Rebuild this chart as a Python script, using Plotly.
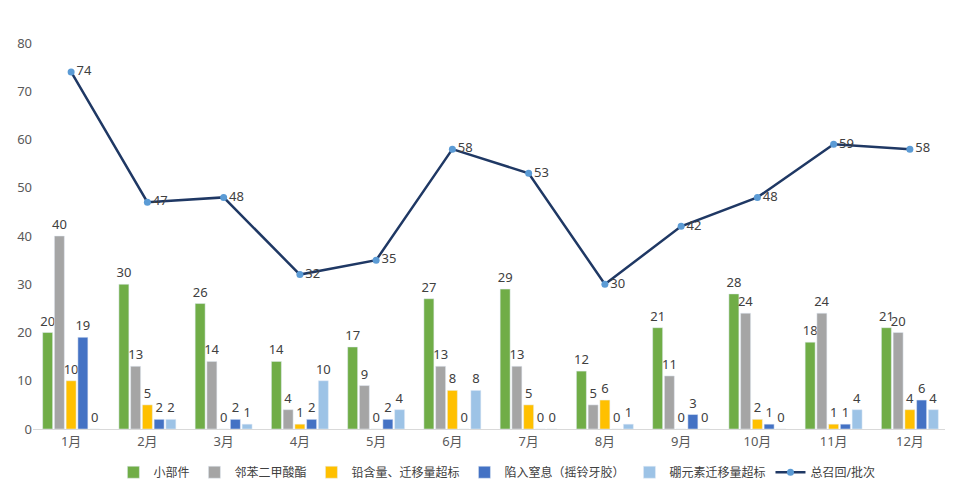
import plotly.graph_objects as go

months = ["1月", "2月", "3月", "4月", "5月", "6月", "7月", "8月", "9月", "10月", "11月", "12月"]
small_parts = [20, 30, 26, 14, 17, 27, 29, 12, 21, 28, 18, 21]
phthalates = [40, 13, 14, 4, 9, 13, 13, 5, 11, 24, 24, 20]
lead = [10, 5, 0, 1, 0, 8, 5, 6, 0, 2, 1, 4]
choking = [19, 2, 2, 2, 2, 0, 0, 0, 3, 1, 1, 6]
boron = [0, 2, 1, 10, 4, 8, 0, 1, 0, 0, 4, 4]
total = [74, 47, 48, 32, 35, 58, 53, 30, 42, 48, 59, 58]

series_names = ["小部件", "邻苯二甲酸酯", "铅含量、迁移量超标", "陷入窒息（摇铃牙胶）", "硼元素迁移量超标"]
series_vals = [small_parts, phthalates, lead, choking, boron]
colors = ["#70AD47", "#A5A5A5", "#FFC000", "#4472C4", "#9DC3E6"]

FONT = "Noto Sans, Noto Sans CJK SC, sans-serif"

fig = go.Figure()
for name, vals, c in zip(series_names, series_vals, colors):
    fig.add_trace(go.Bar(
        x=months, y=vals, name=name, marker_color=c,
        text=vals, textposition="outside", cliponaxis=False, constraintext="none",
        textfont=dict(size=13, color="#404040", family=FONT),
    ))

fig.add_trace(go.Scatter(
    x=months, y=total, name="总召回/批次", mode="lines+markers+text",
    line=dict(color="#1F3864", width=2.5),
    marker=dict(color="#5B9BD5", size=7),
    text=total, textposition="middle right",
    textfont=dict(size=13, color="#404040", family=FONT),
    cliponaxis=False,
))

fig.update_layout(
    width=953, height=503,
    margin=dict(l=25, r=13, t=35, b=82),
    paper_bgcolor="white", plot_bgcolor="white",
    barmode="group", bargap=0.23, bargroupgap=0.15,
    font=dict(family=FONT, size=13, color="#595959"),
    showlegend=True,
    legend=dict(orientation="h", x=0.507, xanchor="center", y=-0.112, yanchor="middle",
                font=dict(size=12, color="#404040"), itemwidth=30, tracegroupgap=0),
    xaxis=dict(range=[-0.5, len(months) - 0.5], showgrid=False, showline=True,
               linecolor="#D9D9D9", linewidth=1,
               ticks="", automargin=False, tickfont=dict(size=13, color="#595959")),
    yaxis=dict(range=[0, 80], dtick=10, showgrid=False, showline=False, zeroline=False,
               ticks="", automargin=False, tickfont=dict(size=13, color="#595959")),
)

fig.write_html("out.html")
